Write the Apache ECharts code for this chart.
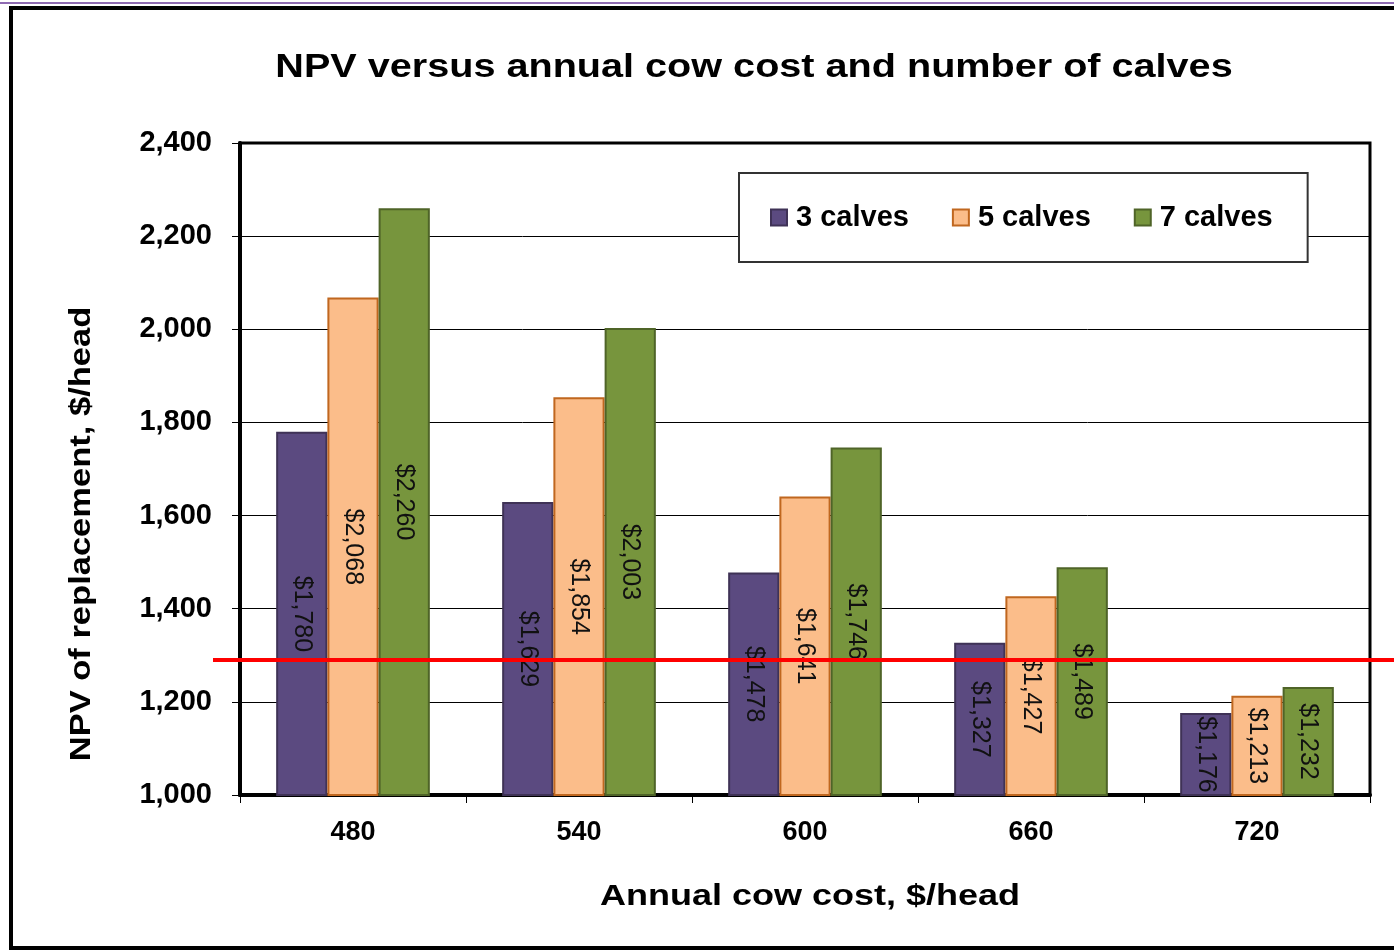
<!DOCTYPE html>
<html>
<head>
<meta charset="utf-8">
<script src="https://cdn.jsdelivr.net/npm/echarts@6/dist/echarts.min.js"></script>
<style>
html,body{margin:0;padding:0;background:#fff;}
#c{width:1394px;height:951px;}
</style>
</head>
<body>
<div id="c"></div>
<script>
const categories = ['480', '540', '600', '660', '720'];
const seriesNames = ['3 calves', '5 calves', '7 calves'];
const calves3 = [1780, 1629, 1478, 1327, 1176];
const calves5 = [2068, 1854, 1641, 1427, 1213];
const calves7 = [2260, 2003, 1746, 1489, 1232];
const yMin = 1000, yMax = 2400, yStep = 200;
const redLineValue = 1290;
const titleText = 'NPV versus annual cow cost and number of calves';
const xAxisName = 'Annual cow cost, $/head';
const yAxisName = 'NPV of replacement, $/head';

const FONT = '"Liberation Sans", Arial, sans-serif';
const fills = ['#5b4a80', '#fbbd8a', '#77953d'];
const borders = ['#3f3256', '#c0671f', '#4f6428'];
const dataSets = [calves3, calves5, calves7];

function fmt(v) { return v.toString().replace(/\B(?=(\d{3})+(?!\d))/g, ','); }

const chart = echarts.init(document.getElementById('c'), null, {renderer: 'canvas'});
const option = {
  backgroundColor: '#fff',
  animation: false,
  legend: {
    data: seriesNames,
    left: 739, top: 173,
    backgroundColor: '#fff',
    borderColor: '#333', borderWidth: 2,
    padding: [30, 35, 30, 31],
    itemWidth: 16, itemHeight: 16, itemGap: 43,
    icon: 'rect',
    textStyle: {fontFamily: FONT, fontWeight: 'bold', fontSize: 29, color: '#000', padding: [0, 0, 0, 4]}
  },
  grid: {
    left: 240, right: 24, top: 143, bottom: 156,
    show: true, borderColor: '#000', borderWidth: 3, backgroundColor: 'transparent'
  },
  xAxis: {
    type: 'category', data: categories,
    axisLine: {show: true, lineStyle: {color: '#000', width: 4}},
    axisTick: {show: true, inside: false, length: 8, lineStyle: {color: '#000', width: 1}},
    axisLabel: {fontFamily: FONT, fontWeight: 'bold', fontSize: 27, color: '#000', margin: 24},
    splitLine: {show: false}
  },
  yAxis: {
    type: 'value', min: yMin, max: yMax, interval: yStep,
    axisLine: {show: true, lineStyle: {color: '#000', width: 4}},
    axisTick: {show: true, inside: false, length: 8, lineStyle: {color: '#000', width: 1}},
    axisLabel: {fontFamily: FONT, fontWeight: 'bold', fontSize: 29, color: '#000', margin: 28, formatter: fmt},
    splitLine: {show: true, lineStyle: {color: '#000', width: 1}}
  },
  series: seriesNames.map((n, i) => ({
    name: n, type: 'bar', data: dataSets[i],
    barGap: '0%', barCategoryGap: '32%',
    itemStyle: {color: fills[i], borderColor: borders[i], borderWidth: 2},
    label: {
      show: true, position: 'inside', rotate: -90,
      fontFamily: '"Liberation Sans Narrow", "Liberation Sans", Arial, sans-serif',
      fontSize: 25, color: '#111',
      formatter: p => '$' + fmt(p.value)
    }
  }))
};
chart.setOption(option);

const yRed = chart.convertToPixel({yAxisIndex: 0}, redLineValue);
chart.setOption({
  graphic: [
    {type: 'text', x: 754, y: 68, scaleX: 1.2, z: 100,
      style: {text: titleText, font: 'bold 33px ' + FONT, fill: '#000', textAlign: 'center', textVerticalAlign: 'middle'}},
    {type: 'text', x: 810, y: 897, scaleX: 1.2, z: 100,
      style: {text: xAxisName, font: 'bold 30px ' + FONT, fill: '#000', textAlign: 'center', textVerticalAlign: 'middle'}},
    {type: 'text', x: 82, y: 534, scaleX: 1.19, rotation: Math.PI / 2, z: 100,
      style: {text: yAxisName, font: 'bold 29px ' + FONT, fill: '#000', textAlign: 'center', textVerticalAlign: 'middle'}},
    {type: 'rect', shape: {x: 11, y: 8, width: 1400, height: 940}, style: {fill: 'none', stroke: '#000', lineWidth: 4}, z: 100},
    {type: 'line', shape: {x1: 0, y1: 3, x2: 1394, y2: 3}, style: {stroke: '#6a3a9a', lineWidth: 1.5}, z: 100},
    {type: 'line', shape: {x1: 213, y1: yRed, x2: 1394, y2: yRed}, style: {stroke: '#ff0000', lineWidth: 4}, z: 100}
  ]
});
</script>
</body>
</html>
